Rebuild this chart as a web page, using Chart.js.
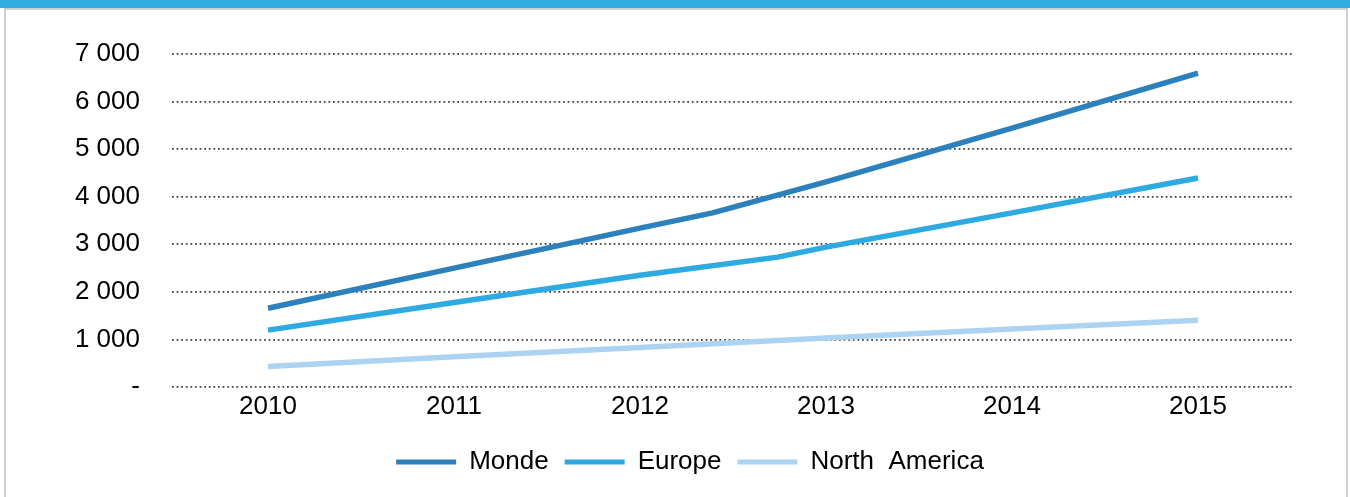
<!DOCTYPE html>
<html>
<head>
<meta charset="utf-8">
<script src="https://cdn.jsdelivr.net/npm/chart.js@4"></script>
<style>
  html, body { margin: 0; padding: 0; background: #fff; }
  body { width: 1350px; height: 497px; position: relative; overflow: hidden; }
  #bar { position: absolute; left: 0; top: 0; width: 1350px; height: 8px; background: #31ade2; }
  #frame { position: absolute; left: 4px; top: 8px; width: 1340px; height: 500px; border: 2px solid #cfcfcf; }
  #wrap { position: absolute; left: 0; top: 0; width: 1350px; height: 497px; }
</style>
</head>
<body>
<div id="bar"></div>
<div id="frame"></div>
<div id="wrap"><canvas id="c" width="1350" height="497"></canvas></div>
<script>
const yearTicks = [2010, 2011, 2012, 2013, 2014, 2015];
const yTicks = [0, 1000, 2000, 3000, 4000, 5000, 6000, 7000];

const seriesNames = ["Monde", "Europe", "North  America"];
const seriesColors = ["#2c80bb", "#2eaae2", "#acd4f2"];

const mondeX = [2010, 2011, 2012, 2012.39, 2013, 2014, 2015];
const mondeY = [1655, 2500, 3340, 3660, 4310, 5440, 6600];

const europeX = [2010, 2011, 2012, 2012.74, 2013, 2014, 2015];
const europeY = [1195, 1775, 2350, 2730, 2940, 3660, 4395];

const naX = [2010, 2011, 2012, 2013, 2014, 2015];
const naY = [430, 635, 830, 1030, 1220, 1405];

const toPts = (xs, ys) => xs.map((x, i) => ({ x: x, y: ys[i] }));
const FONT = "'Liberation Sans', Arial, sans-serif";

const fmt = v => v === 0 ? "-" : String(v).replace(/\B(?=(\d{3})+(?!\d))/g, " ");

const legendShift = {
  id: "legendShift",
  afterLayout(chart) {
    if (chart.legend) { chart.legend.left += 43; chart.legend.right += 43; }
  }
};

new Chart(document.getElementById("c"), {
  type: "line",
  data: {
    datasets: [
      { label: seriesNames[0], data: toPts(mondeX, mondeY), borderColor: seriesColors[0], backgroundColor: seriesColors[0] },
      { label: seriesNames[1], data: toPts(europeX, europeY), borderColor: seriesColors[1], backgroundColor: seriesColors[1] },
      { label: seriesNames[2], data: toPts(naX, naY), borderColor: seriesColors[2], backgroundColor: seriesColors[2] }
    ]
  },
  plugins: [legendShift],
  options: {
    responsive: false,
    animation: false,
    events: [],
    elements: {
      line: { borderWidth: 5.5, tension: 0, borderCapStyle: "butt", borderJoinStyle: "round" },
      point: { radius: 0 }
    },
    layout: { padding: { top: 54, right: 56, left: 0, bottom: 12 } },
    scales: {
      x: {
        type: "linear",
        min: 2009.484,
        max: 2015.516,
        afterBuildTicks: axis => { axis.ticks = yearTicks.map(v => ({ value: v })); },
        grid: { display: false, drawTicks: false },
        border: { display: false },
        ticks: {
          color: "#000",
          font: { family: FONT, size: 26 },
          padding: 4,
          callback: v => String(v),
          maxRotation: 0,
          autoSkip: false
        },
        afterFit: axis => { axis.height = 46; }
      },
      y: {
        min: 0,
        max: 7000,
        afterBuildTicks: axis => { axis.ticks = yTicks.map(v => ({ value: v })); },
        grid: {
          color: "#444",
          lineWidth: 1.8,
          drawTicks: false
        },
        border: { display: false, dash: [1.8, 2.8] },
        ticks: {
          color: "#000",
          font: { family: FONT, size: 26 },
          padding: 32,
          callback: v => fmt(v)
        },
        afterFit: axis => { axis.width = 172; }
      }
    },
    plugins: {
      tooltip: { enabled: false },
      legend: {
        position: "bottom",
        labels: {
          color: "#000",
          font: { family: FONT, size: 26 },
          boxWidth: 60,
          boxHeight: 5,
          padding: 16,
          generateLabels: chart => chart.data.datasets.map((ds, i) => ({
            text: ds.label,
            fillStyle: ds.borderColor,
            strokeStyle: ds.borderColor,
            lineWidth: 0,
            hidden: false,
            datasetIndex: i
          }))
        }
      }
    }
  }
});
</script>
</body>
</html>
